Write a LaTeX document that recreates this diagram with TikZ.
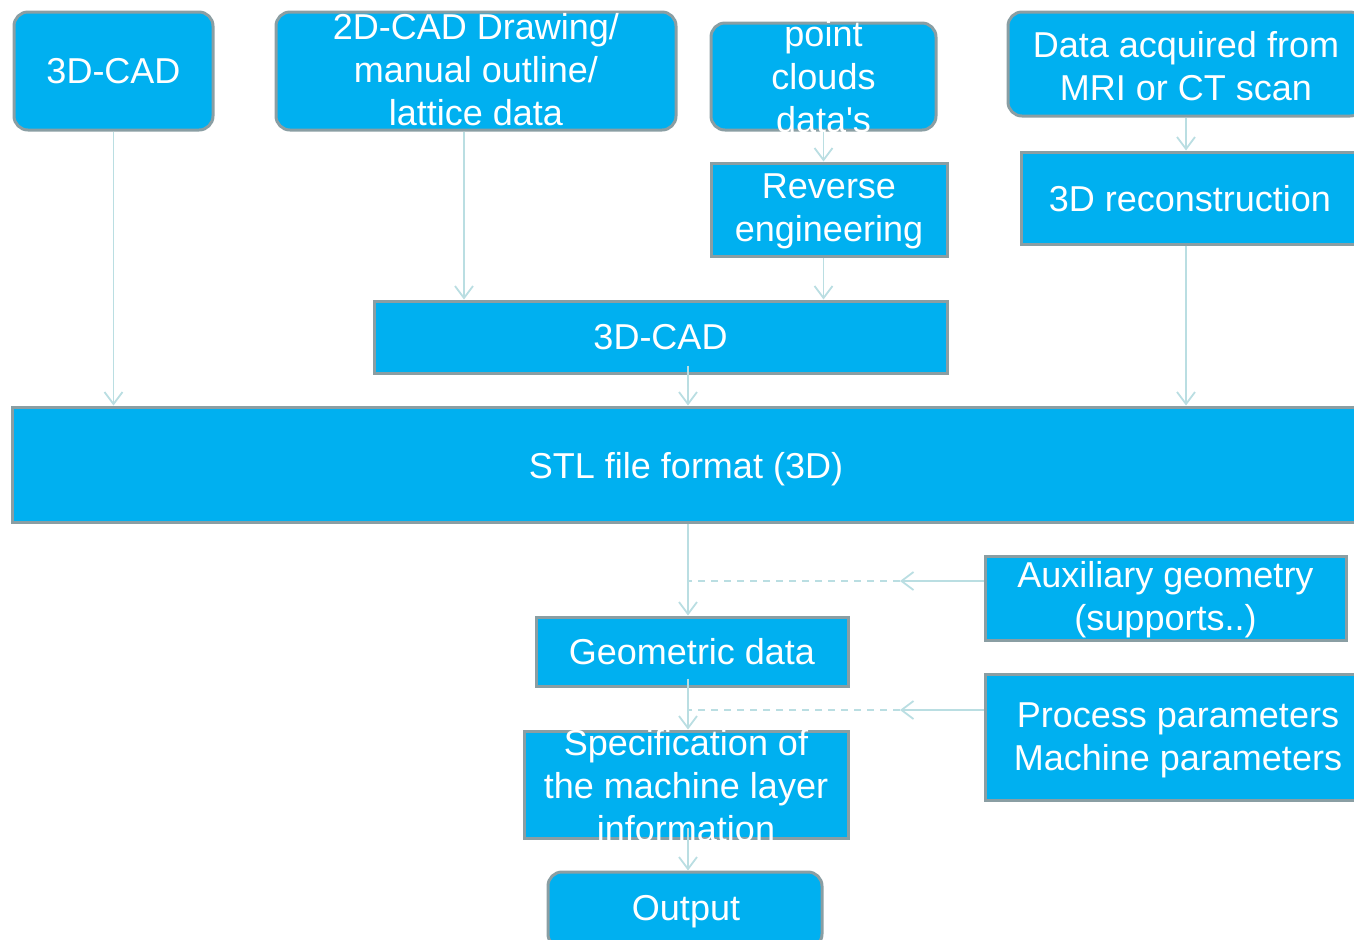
\documentclass[tikz,border=0pt]{standalone}
\usepackage{fontspec}
\setmainfont{Liberation Sans}[Ligatures=TeXOff]
\usetikzlibrary{arrows.meta,calc}
\definecolor{boxblue}{RGB}{0,176,240}
\definecolor{boxline}{RGB}{138,158,163}
\definecolor{linkcol}{RGB}{186,222,226}
\tikzset{
  box/.style={draw=boxline,line width=1.5pt,fill=boxblue,inner sep=0pt},
  rbox/.style={box,rounded corners=7pt},
  txt/.style={text=white,align=center,inner sep=0pt,font=\fontsize{18}{21.5}\selectfont},
  link/.style={draw=linkcol,line width=0.9pt,-{Straight Barb[length=6pt,width=9pt]}},
  dlink/.style={draw=linkcol,line width=0.9pt,dash pattern=on 3.5pt off 3pt}
}
\begin{document}
\begin{tikzpicture}[x=0.5pt,y=-0.5pt]
    \useasboundingbox (0,0) rectangle (1354,939);
    \node[rbox,minimum width=99.5pt,minimum height=59pt] (cad1) at (113.5,71) {};
    \node[rbox,minimum width=200pt,minimum height=59pt] (cad2) at (476,71) {};
    \node[rbox,minimum width=112.5pt,minimum height=53.5pt] (pc) at (823.5,76.5) {};
    \node[rbox,minimum width=178pt,minimum height=52pt] (mri) at (1186,64) {};
    \node[box,minimum width=118pt,minimum height=46.5pt] (rev) at (829,209.5) {};
    \node[box,minimum width=169pt,minimum height=46pt] (recon) at (1190,198) {};
    \node[box,minimum width=286.5pt,minimum height=36pt] (cad3) at (660.5,337) {};
    \node[box,minimum width=674pt,minimum height=57.5pt] (stl) at (686,464.5) {};
    \node[box,minimum width=180.5pt,minimum height=42pt] (aux) at (1165.5,598) {};
    \node[box,minimum width=156pt,minimum height=34.5pt] (geo) at (692,651.5) {};
    \node[box,minimum width=193pt,minimum height=63pt] (proc) at (1178,737) {};
    \node[box,minimum width=162pt,minimum height=53.5pt] (spec) at (686,784.5) {};
    \node[rbox,minimum width=137pt,minimum height=38pt] (out) at (685,910) {};

    \node[txt] (cad1t) at (cad1) {3D-CAD};
    \node[txt] (cad2t) at (476,70) {2D-CAD Drawing/\\manual outline/\\lattice data};
    \node[txt] (pct) at (823.5,77) {point\\clouds\\data's};
    \node[txt] (mrit) at (1186,66) {Data acquired from\\MRI or CT scan};
    \node[txt] (revt) at (829,211) {Reverse\\engineering};
    \node[txt] (recont) at (1190,199) {3D reconstruction};
    \node[txt] (cad3t) at (cad3) {3D-CAD};
    \node[txt] (stlt) at (686,469) {STL file format (3D)};
    \node[txt] (auxt) at (1165.5,600) {Auxiliary geometry\\(supports..)};
    \node[txt] (geot) at (geo) {Geometric data};
    \node[txt] (proct) at (1178,740) {Process parameters\\Machine parameters};
    \node[txt] (spect) at (686,786) {Specification of\\the machine layer\\information};
    \node[txt] (outt) at (686,912) {Output};

    \coordinate (spine) at (688,0);
    \coordinate (a1) at (900,581);
    \coordinate (p1) at (900,710);

    \draw[link] (cad1.south) -- (cad1.south |- stl.north);
    \draw[link] ([xshift=-6pt]cad2.south) -- ([xshift=-6pt]cad2.south |- cad3.north);
    \draw[link] (pc.south) -- (pc.south |- rev.north);
    \draw[link] (pc.south |- rev.south) -- (pc.south |- cad3.north);
    \draw[link] (mri.south) -- (mri.south |- recon.north);
    \draw[link] (mri.south |- recon.south) -- (mri.south |- stl.north);
    \draw[link] ($(cad3.south -| spine)+(0,-9)$) -- (spine |- stl.north);
    \draw[link] (stl.south -| spine) -- (spine |- geo.north);
    \draw[link] ($(geo.south -| spine)+(0,-9)$) -- (spine |- spec.north);
    \draw[link] ($(spec.south -| spine)+(0,-12)$) -- (spine |- out.north);
    \draw[link] (aux.west |- a1) -- (a1);
    \draw[dlink] (a1) -- (a1 -| spine);
    \draw[link] (proc.west |- p1) -- (p1);
    \draw[dlink] (p1) -- (p1 -| spine);
\end{tikzpicture}
\end{document}
